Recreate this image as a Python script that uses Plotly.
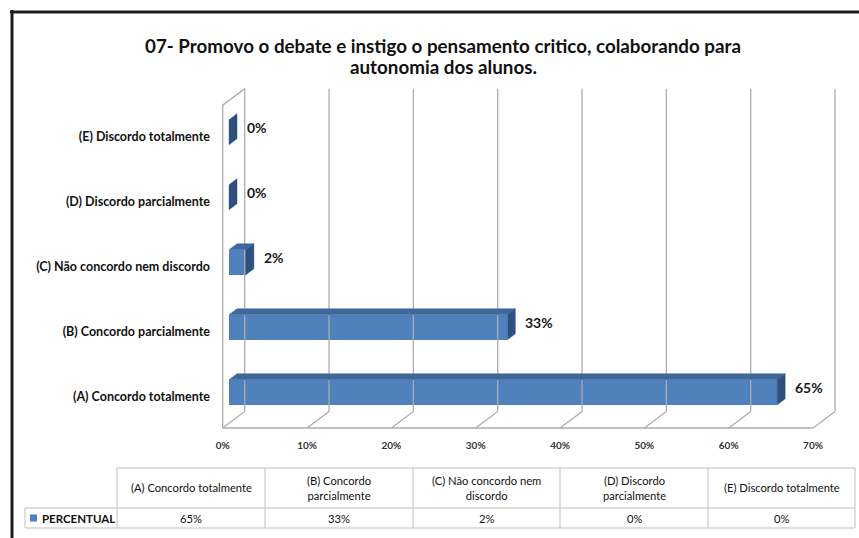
import plotly.graph_objects as go

# ---------------- data ----------------
categories = ["(A) Concordo totalmente", "(B) Concordo parcialmente",
              "(C) Não concordo nem discordo", "(D) Discordo parcialmente",
              "(E) Discordo totalmente"]
values = [65, 33, 2, 0, 0]
table_headers = ["(A) Concordo totalmente", "(B) Concordo<br>parcialmente",
                 "(C) Não concordo nem<br>discordo", "(D) Discordo<br>parcialmente",
                 "(E) Discordo totalmente"]
series_name = "PERCENTUAL"
x_ticks = [0, 10, 20, 30, 40, 50, 60, 70]
x_ticktext = ["0%", "10%", "20%", "30%", "40%", "50%", "60%", "70%"]
title_lines = ["07- Promovo o debate e instigo o pensamento critico, colaborando para",
               "autonomia dos alunos."]

# ---------------- layout geometry ----------------
W_PX, H_PX = 859, 538
ML, MR, MT, MB = 214, 9, 80, 100
PW = W_PX - ML - MR
PH = H_PX - MT - MB
X_RANGE = [-1.032, 74.386]
Y_RANGE = [-0.631, 4.877]

def px(x):   # pixel -> paper x
    return (x - ML) / PW

def py(y):   # pixel -> paper y
    return (H_PX - MB - y) / PH

FONT = "Lato, 'Open Sans', sans-serif"
C_FRONT = "#4F81BD"
C_TOP = "#3E679B"
C_SIDE = "#2F507E"
C_GRID = "#ADADAD"

# 3-D depth vector (data units) and bar placement inside the depth
DX, DY = 2.61, 0.254
F1, F2 = 0.29, 0.65
BAR_H = 0.385
Y_FLOOR, Y_TOP = -0.477, 4.49

fig = go.Figure()

# walls / floor / gridlines
gx, gy = [], []
for t in x_ticks:
    gx += [t + DX, t + DX, None]
    gy += [Y_FLOOR + DY, Y_TOP + DY, None]
    gx += [t, t + DX, None]
    gy += [Y_FLOOR, Y_FLOOR + DY, None]
gx += [x_ticks[0], x_ticks[-1], None]
gy += [Y_FLOOR, Y_FLOOR, None]
gx += [0, 0, DX, None]
gy += [Y_FLOOR, Y_TOP, Y_TOP + DY, None]
fig.add_trace(go.Scatter(x=gx, y=gy, mode="lines",
                         line=dict(color=C_GRID, width=1.3),
                         hoverinfo="skip", showlegend=False))

ypos = list(range(len(categories)))

# bar top and side faces
for i, v in enumerate(values):
    x0 = F1 * DX
    x1 = v + F1 * DX
    yc = ypos[i] + F1 * DY
    yt = yc + BAR_H / 2
    yb = yc - BAR_H / 2
    ddx, ddy = (F2 - F1) * DX, (F2 - F1) * DY
    if v > 0:
        fig.add_trace(go.Scatter(
            x=[x0, x1, x1 + ddx, x0 + ddx, x0],
            y=[yt, yt, yt + ddy, yt + ddy, yt],
            mode="lines", fill="toself", fillcolor=C_TOP,
            line=dict(color=C_TOP, width=0.5),
            hoverinfo="skip", showlegend=False))
    fig.add_trace(go.Scatter(
        x=[x1, x1 + ddx, x1 + ddx, x1, x1],
        y=[yb, yb + ddy, yt + ddy, yt, yb],
        mode="lines", fill="toself", fillcolor=C_SIDE,
        line=dict(color=C_SIDE, width=0.5),
        hoverinfo="skip", showlegend=False))

# bar front faces
fig.add_trace(go.Bar(
    x=values, y=[p + F1 * DY for p in ypos], base=[F1 * DX] * len(values),
    orientation="h", width=BAR_H, marker=dict(color=C_FRONT, line=dict(width=0)),
    name=series_name, showlegend=False, hoverinfo="skip"))

annotations = []
# data labels
for i, v in enumerate(values):
    annotations.append(dict(
        x=v + F1 * DX + 1.9, y=ypos[i] + 0.14, xref="x", yref="y",
        text=f"<b>{v}%</b>", showarrow=False, xanchor="left", yanchor="middle",
        font=dict(family=FONT, size=14, color="#1a1a1a")))

# title (two lines)
for k, (txt, yy) in enumerate(zip(title_lines, [45, 66])):
    annotations.append(dict(
        x=px(443), y=py(yy), xref="paper", yref="paper", text=f"<b>{txt}</b>",
        showarrow=False, xanchor="center", yanchor="middle",
        font=dict(family=FONT, size=18.8, color="#111111")))

# data table
col_edges = [117, 265, 413, 560, 708, 855]
row_top, row_mid, row_bot = 468, 508, 528
shapes = []
def line(x0, y0, x1, y1, color="#BFBFBF", width=1):
    shapes.append(dict(type="line", xref="paper", yref="paper",
                       x0=px(x0), y0=py(y0), x1=px(x1), y1=py(y1),
                       line=dict(color=color, width=width)))
line(col_edges[0], row_top, col_edges[-1], row_top)
line(25, row_mid, col_edges[-1], row_mid)
line(25, row_bot, col_edges[-1], row_bot)
line(25, row_mid, 25, row_bot)
for ce in col_edges:
    line(ce, row_top, ce, row_bot)

for j, (hdr, v) in enumerate(zip(table_headers, values)):
    cx = (col_edges[j] + col_edges[j + 1]) / 2
    annotations.append(dict(
        x=px(cx), y=py((row_top + row_mid) / 2), xref="paper", yref="paper",
        text=hdr, showarrow=False, xanchor="center", yanchor="middle",
        font=dict(family=FONT, size=11.2, color="#111111")))
    annotations.append(dict(
        x=px(cx), y=py((row_mid + row_bot) / 2), xref="paper", yref="paper",
        text=f"{v}%", showarrow=False, xanchor="center", yanchor="middle",
        font=dict(family=FONT, size=11.2, color="#111111")))

# legend key in table
shapes.append(dict(type="rect", xref="paper", yref="paper",
                   x0=px(30), x1=px(37), y0=py(521.5), y1=py(514.5),
                   fillcolor=C_FRONT, line=dict(width=0)))
annotations.append(dict(
    x=px(40), y=py(518), xref="paper", yref="paper", text=f"<b>{series_name}</b>",
    showarrow=False, xanchor="left", yanchor="middle",
    font=dict(family=FONT, size=11.5, color="#111111")))

# outer frame (top and left edges)
line(10, 12, 859, 12, color="#1e1e1e", width=3)
line(12, 10, 12, 538, color="#1e1e1e", width=3)

fig.update_layout(
    width=W_PX, height=H_PX,
    margin=dict(l=ML, r=MR, t=MT, b=MB, autoexpand=False),
    paper_bgcolor="white", plot_bgcolor="white",
    bargap=0, showlegend=False,
    xaxis=dict(range=X_RANGE, tickvals=x_ticks, ticktext=x_ticktext,
               showgrid=False, zeroline=False, showline=False, ticks="",
               tickfont=dict(family=FONT, size=10, color="#333333", weight="bold"),
               fixedrange=True),
    yaxis=dict(range=Y_RANGE, tickvals=ypos, ticktext=categories,
               showgrid=False, zeroline=False, showline=False, ticks="",
               ticklabelstandoff=3,
               tickfont=dict(family=FONT, size=12.5, color="#111111", weight="bold"),
               fixedrange=True),
    annotations=annotations, shapes=shapes,
)

fig.write_html("out.html", config={"displayModeBar": False},
               post_script="document.body.style.margin='0';")
